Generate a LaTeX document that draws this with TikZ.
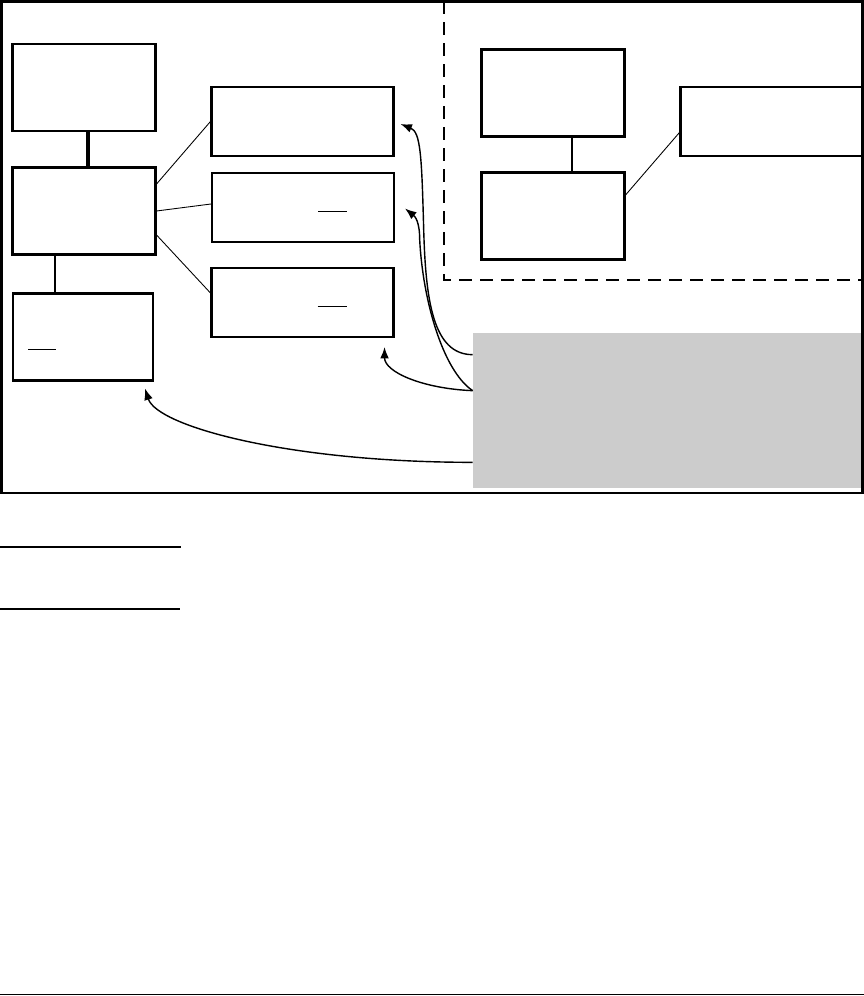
\documentclass[tikz,border=0pt]{standalone}
\usetikzlibrary{arrows.meta, calc}
\definecolor{notegray}{HTML}{CCCCCC}
\begin{document}
\begin{tikzpicture}[x=0.02cm, y=-0.02cm,
  tallbox/.style={draw, line width=1.2pt, minimum width=2.86cm, minimum height=1.74cm, inner sep=0pt},
  widebox/.style={draw, line width=1.2pt, minimum width=3.64cm, minimum height=1.38cm, inner sep=0pt},
  link/.style={line width=0.5pt},
  feed/.style={line width=0.8pt, -{Latex[length=6.5pt, width=5pt]}}]
\useasboundingbox (0,0) rectangle (864,996);
\draw[line width=1.7pt] (1.5,1.5) rectangle (862.5,493);
\draw[line width=1.1pt, dash pattern=on 0.26cm off 0.16cm] (444,1.5) -- (444,280) -- (862.5,280);
\node[tallbox] (lefttop) at (84,87.5) {};
\node[tallbox] (leftmid) at (84,211) {};
\node[tallbox, minimum width=2.8cm] (leftlow) at (83,337) {};
\node[widebox] (cardone) at (302.5,121.5) {};
\node[widebox] (cardtwo) at (303,207.5) {};
\node[widebox] (cardthree) at (302.5,302.5) {};
\node[tallbox] (righttop) at (553,93) {};
\node[tallbox] (rightlow) at (553,216) {};
\node[widebox] (rightcard) at (771.5,121.5) {};
\node[fill=notegray, minimum width=7.76cm, minimum height=3.1cm, inner sep=0pt] (callout) at (667,410.5) {};
\draw[line width=2pt] ([xshift=0.08cm]lefttop.south) -- ([xshift=0.08cm]lefttop.south |- leftmid.north);
\draw[line width=1pt] ([xshift=-0.58cm]leftmid.south) -- ([xshift=-0.58cm]leftmid.south |- leftlow.north);
\draw[line width=1.4pt] ([xshift=0.38cm]righttop.south) -- ([xshift=0.38cm]righttop.south |- rightlow.north);
\draw[link] ([yshift=0.54cm]leftmid.east) -- (cardone.west);
\draw[link] (leftmid.east) -- ([yshift=0.07cm]cardtwo.west);
\draw[link] ([yshift=-0.48cm]leftmid.east) -- ([yshift=0.19cm]cardthree.west);
\draw[link] ([yshift=0.42cm]rightlow.east) -- ([yshift=-0.22cm]rightcard.west);
\draw[link] ($(cardtwo.center)+(15,3.5)$) -- ++(29,0);
\draw[link] ($(cardthree.center)+(15,3.5)$) -- ++(29,0);
\draw[link] ($(leftlow.center)+(-55,12)$) -- ++(28,0);
\draw[feed] ($(callout.north west)+(0,22)$) .. controls +(-40,0) and +(2,70) .. ($(callout.north west)+(-49,-103)$) .. controls +(-2,-75) and +(20,8) .. ($(cardone.east)+(6,2.5)$);
\draw[feed] ($(callout.north west)+(0,58)$) .. controls +(-30,-20) and +(3,60) .. ($(callout.north west)+(-53,-93)$) .. controls +(0,-18) and +(10,8) .. ($(cardtwo.east)+(10,1)$);
\draw[feed] ($(callout.north west)+(0,58)$) .. controls +(-50,-2) and +(0,25) .. ($(cardthree.south east)+(-10,9)$);
\draw[feed] ($(callout.south west)+(0,-26)$) .. controls +(-183,0) and +(12,38) .. ($(leftlow.south east)+(-9,7)$);
\draw[line width=1.1pt] (0,547) -- (181,547);
\draw[line width=0.6pt] (0,609) -- (180,609);
\draw[line width=0.8pt] (0,994.5) -- (864,994.5);
\end{tikzpicture}
\end{document}
